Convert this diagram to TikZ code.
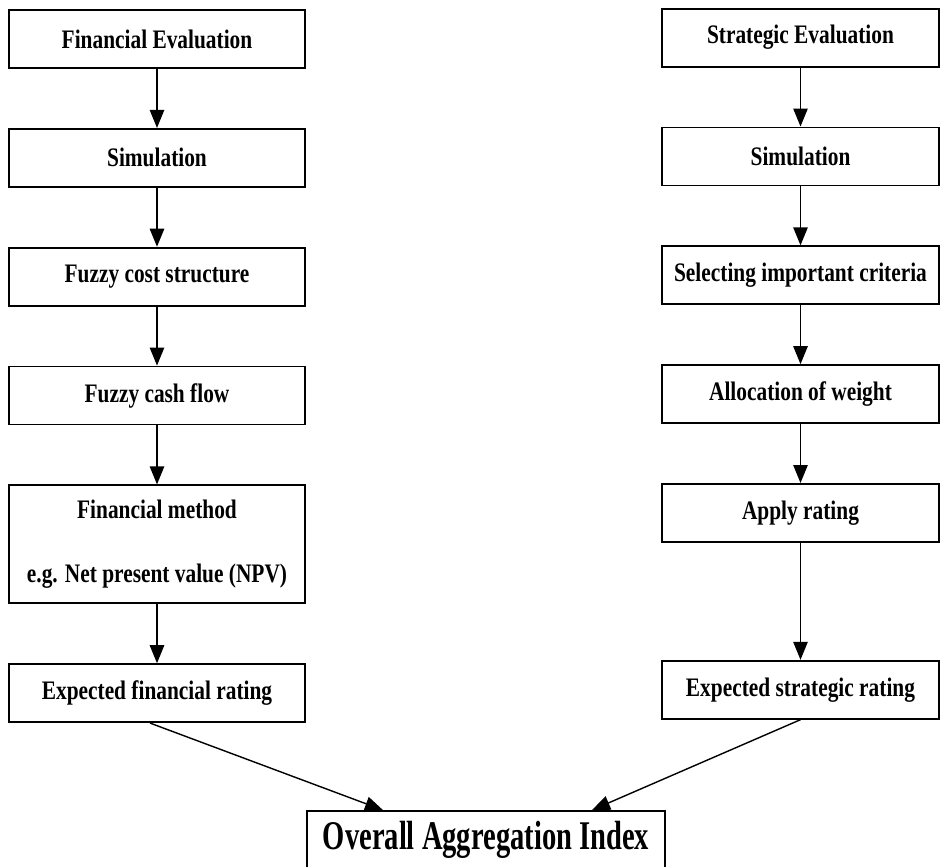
\documentclass[tikz,border=0pt]{standalone}
\usepackage{fontspec}
\setmainfont{Liberation Serif}[FakeStretch=0.8]
\newfontfamily\aggfont{Liberation Serif}[FakeStretch=0.7]
\usetikzlibrary{arrows.meta,positioning}

\begin{document}
\begin{tikzpicture}[node distance=1.475cm, auto,
    stage/.style={draw, line width=1.3pt, minimum height=1.45cm, inner sep=0pt, align=center,
      font=\fontsize{19}{22}\selectfont\bfseries},
    finbox/.style={stage, minimum width=7.4cm},
    stratbox/.style={stage, minimum width=6.925cm},
    flow/.style={-{Triangle[length=0.45cm,width=0.36cm]}, line width=1pt}]
        \useasboundingbox (0,0) rectangle (23.5,-21.65);

        % Financial side
        \node [finbox] (fineval) at (3.925,-0.975) {Financial Evaluation};
        \node [finbox, below=of fineval] (finsim) {Simulation};
        \node [finbox, below=of finsim] (cost) {Fuzzy cost structure};
        \node [finbox, below=of cost] (cash) {Fuzzy cash flow};
        \node [finbox, below=of cash, minimum height=2.95cm] (method) {Financial method\\[0.83cm]e.g. Net present value (NPV)};
        \node [finbox, below=of method] (finrate) {Expected financial rating};

        % Strategic side
        \node [stratbox] (streval) at (20.0125,-0.94) {Strategic Evaluation};
        \node [stratbox, below=of streval] (strsim) {Simulation};
        \node [stratbox, below=of strsim] (criteria) {Selecting important criteria};
        \node [stratbox, below=of criteria] (weight) {Allocation of weight};
        \node [stratbox, below=of weight] (apply) {Apply rating};
        \node [stratbox, below=2.925cm of apply] (strrate) {Expected strategic rating};

        % Aggregation
        \node [draw, line width=1.3pt, minimum width=8.95cm, minimum height=1.45cm, inner sep=0pt,
          font=\aggfont\fontsize{29}{33}\selectfont\bfseries] (agg) at (12.15,-21.0) {Overall Aggregation Index};
        \coordinate (aggL) at ([xshift=-2.575cm]agg.north);
        \coordinate (aggR) at ([xshift=2.65cm]agg.north);
        \coordinate (finout) at ([xshift=-0.175cm]finrate.south);

        % Arrows
        \draw [flow] (fineval) -- (finsim);
        \draw [flow] (finsim) -- (cost);
        \draw [flow] (cost) -- (cash);
        \draw [flow] (cash) -- (method);
        \draw [flow] (method) -- (finrate);
        \draw [flow] (streval) -- (strsim);
        \draw [flow] (strsim) -- (criteria);
        \draw [flow] (criteria) -- (weight);
        \draw [flow] (weight) -- (apply);
        \draw [flow] (apply) -- (strrate);
        \draw [flow] (finout) -- (aggL);
        \draw [flow] (strrate.south) -- (aggR);
    \end{tikzpicture}
\end{document}
